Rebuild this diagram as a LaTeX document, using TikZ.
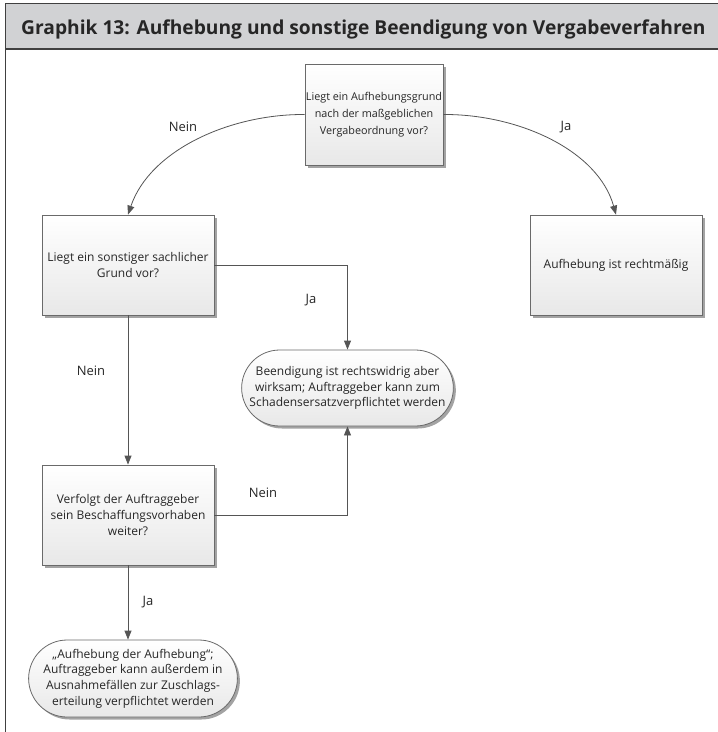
\documentclass[tikz,border=0pt]{standalone}
\usepackage{fontspec}
\setmainfont{Open Sans}
\usetikzlibrary{shapes.misc,shadows,arrows.meta}
\definecolor{titlegray}{HTML}{D1D2D4}
\definecolor{edgegray}{HTML}{6A6A6A}
\definecolor{linegray}{HTML}{555555}
\tikzset{
  box/.style={draw=edgegray, line width=0.8pt, top color=white, bottom color=black!9,
    minimum width=172pt, minimum height=100pt, align=center, inner sep=1pt,
    font=\fontsize{12}{15.7}\selectfont, text=black!85,
    drop shadow={shadow xshift=2.5pt, shadow yshift=-2.5pt, fill=black!45, opacity=0.8}},
  term/.style={box, rounded rectangle, rounded rectangle arc length=180},
  conn/.style={draw=linegray, line width=0.8pt, -{Triangle[length=9pt,width=7pt]}},
  lbl/.style={font=\fontsize{13}{15}\selectfont, text=black!85},
}
\begin{document}
\begin{tikzpicture}[x=1pt,y=-1pt]
\useasboundingbox (0,0) rectangle (718,732);
% frame and title
\fill[titlegray] (5,3) rectangle (720,49);
\draw[black!75, line width=1pt] (5,3) -- (720,3);
\draw[black!75, line width=1.2pt] (5,49) -- (720,49);
\draw[black!75, line width=1.2pt] (5.5,3) -- (5.5,734);
\node[anchor=base west, font=\fontsize{19.2}{22}\selectfont\bfseries, text=black!85, inner sep=0pt] (title) at (21,34) {Graphik 13: Aufhebung und sonstige Beendigung von Vergabeverfahren};
% nodes
\node[box, minimum width=138pt, minimum height=101pt, inner sep=0pt, font=\fontsize{10.8}{17}\selectfont] (q1) at (374,114.5) {Liegt ein Aufhebungsgrund\\nach der maßgeblichen\\Vergabeordnung vor?};
\node[box] (q2) at (128,265) {Liegt ein sonstiger sachlicher\\Grund vor?};
\node[box] (ok) at (616,265) {Aufhebung ist rechtmäßig};
\node[term, minimum width=205pt, minimum height=76pt] (t1) at (347.5,388) {Beendigung ist rechtswidrig aber\\wirksam; Auftraggeber kann zum\\Schadensersatzverpflichtet werden};
\node[box] (q3) at (128,515) {Verfolgt der Auftraggeber\\sein Beschaffungsvorhaben\\weiter?};
\node[term, minimum width=202pt, minimum height=77pt] (t2) at (133,678.5) {„Aufhebung der Aufhebung“;\\Auftraggeber kann außerdem in\\Ausnahmefällen zur Zuschlags-\\erteilung verpflichtet werden};
% connectors
\draw[conn] (q1.west) .. controls (230,114) and (150,150) .. (q2.north);
\draw[conn] (q1.east) .. controls (518,114) and (598,150) .. (ok.north);
\draw[conn] (q2.east) -| (t1.north);
\draw[conn] (q2.south) -- (q3.north);
\draw[conn] (q3.east) -| (t1.south);
\draw[conn] (q3.south) -- (q3.south |- t2.north);
% labels
\node[lbl] (l1) at (183,127) {Nein};
\node[lbl] (l2) at (566,127) {Ja};
\node[lbl] (l3) at (311,300) {Ja};
\node[lbl] (l4) at (91,371) {Nein};
\node[lbl] (l5) at (263,493) {Nein};
\node[lbl] (l6) at (148,602) {Ja};
\end{tikzpicture}
\end{document}
